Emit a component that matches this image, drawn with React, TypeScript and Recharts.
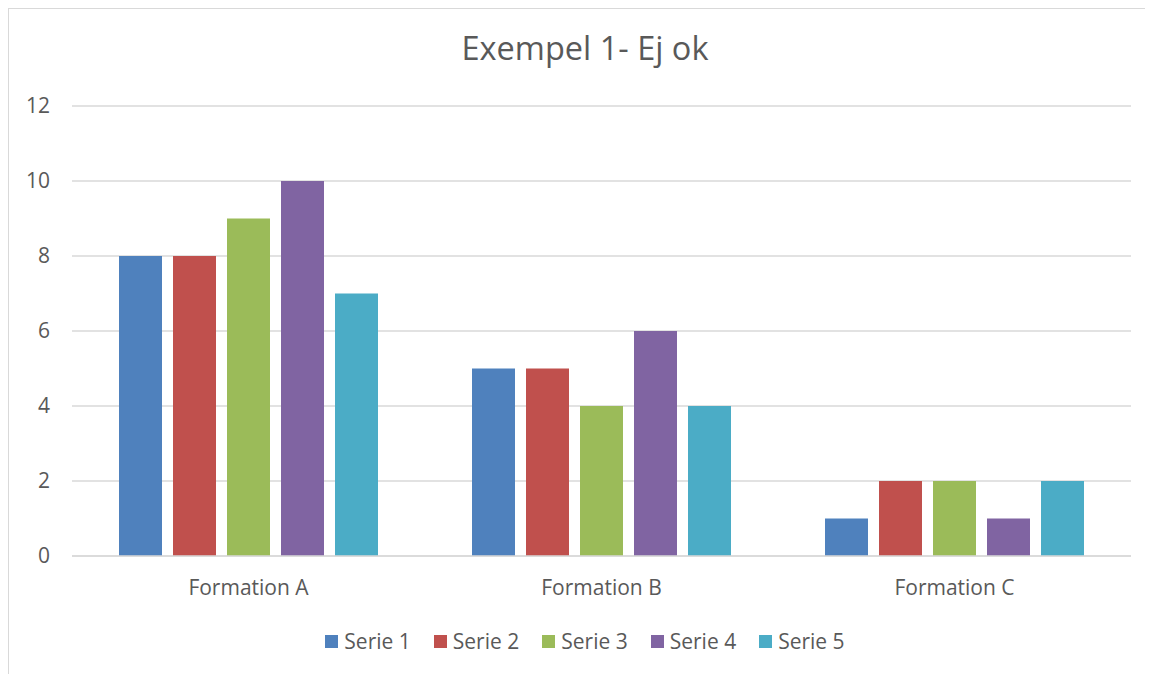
import React from 'react';
import { BarChart, Bar, XAxis, YAxis, CartesianGrid } from 'recharts';

const categories = ['Formation A', 'Formation B', 'Formation C'];
const serie1 = [8, 5, 1];
const serie2 = [8, 5, 2];
const serie3 = [9, 4, 2];
const serie4 = [10, 6, 1];
const serie5 = [7, 4, 2];
const yTicks = [0, 2, 4, 6, 8, 10, 12];

const seriesNames = ['Serie 1', 'Serie 2', 'Serie 3', 'Serie 4', 'Serie 5'];
const colors = ['#4F81BD', '#C0504D', '#9BBB59', '#8064A2', '#4BACC6'];

const data = categories.map((name, i) => ({
  name,
  s1: serie1[i],
  s2: serie2[i],
  s3: serie3[i],
  s4: serie4[i],
  s5: serie5[i],
}));

const FONT = '"Open Sans", sans-serif';
const TEXT = '#595959';
const GRID = '#d9d9d9';

export default function App() {
  return (
    <div
      style={{
        position: 'relative',
        width: 1152,
        height: 666,
        borderLeft: `1px solid ${GRID}`,
        borderTop: `1px solid ${GRID}`,
        background: '#fff',
        fontFamily: FONT,
      }}
    >
      <div
        style={{
          position: 'absolute',
          top: 23,
          left: 0,
          width: 1152,
          textAlign: 'center',
          fontSize: 32.5,
          lineHeight: 1,
          color: TEXT,
        }}
      >
        Exempel 1- Ej ok
      </div>
      <BarChart
        width={1152}
        height={666}
        data={data}
        margin={{ top: 97, right: 30, left: 0, bottom: 89 }}
        barCategoryGap={47}
        barGap={11}
      >
        <CartesianGrid vertical={false} stroke={GRID} strokeWidth={1.5} />
        <XAxis
          dataKey="name"
          axisLine={{ stroke: GRID, strokeWidth: 1.5 }}
          tickLine={false}
          tickSize={0}
          tickMargin={24}
          tick={{ fontSize: 21, fill: TEXT, fontFamily: FONT }}
        />
        <YAxis
          width={63}
          domain={[0, 12]}
          ticks={yTicks}
          axisLine={false}
          tickLine={false}
          tickSize={0}
          tickMargin={22}
          tick={{ fontSize: 21, fill: TEXT, fontFamily: FONT }}
        />
        <Bar dataKey="s1" name={seriesNames[0]} fill={colors[0]} isAnimationActive={false} />
        <Bar dataKey="s2" name={seriesNames[1]} fill={colors[1]} isAnimationActive={false} />
        <Bar dataKey="s3" name={seriesNames[2]} fill={colors[2]} isAnimationActive={false} />
        <Bar dataKey="s4" name={seriesNames[3]} fill={colors[3]} isAnimationActive={false} />
        <Bar dataKey="s5" name={seriesNames[4]} fill={colors[4]} isAnimationActive={false} />
      </BarChart>
      <div
        style={{
          position: 'absolute',
          top: 620,
          left: 0,
          width: 1152,
          display: 'flex',
          justifyContent: 'center',
          gap: 23,
          fontSize: 21,
          color: TEXT,
          lineHeight: '24px',
        }}
      >
        {seriesNames.map((n, i) => (
          <div key={n} style={{ display: 'flex', alignItems: 'center' }}>
            <span style={{ width: 13, height: 13, background: colors[i], marginRight: 6, display: 'inline-block' }} />
            <span>{n}</span>
          </div>
        ))}
      </div>
    </div>
  );
}
